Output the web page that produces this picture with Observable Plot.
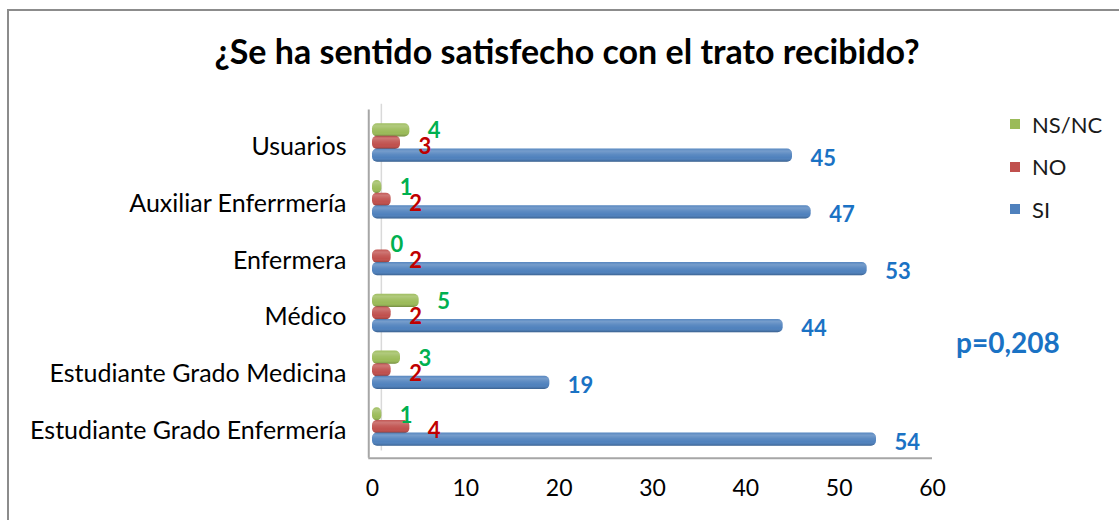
<!DOCTYPE html>
<html><head><meta charset="utf-8">
<script src="https://cdn.jsdelivr.net/npm/d3@7"></script>
<script src="https://cdn.jsdelivr.net/npm/@observablehq/plot@0.6"></script>
<style>
body{margin:0;background:#fff;}
#wrap{position:relative;width:1119px;height:520px;overflow:hidden;font-family:Lato,sans-serif;background:#fff;}
#border{position:absolute;left:7px;top:9px;width:1300px;height:700px;border:2px solid #8c8c8c;box-sizing:border-box;}
#chart{position:absolute;left:0;top:0;}
#title{position:absolute;left:0;width:1134px;top:31px;text-align:center;font-weight:bold;font-size:34px;line-height:40px;color:#000;}
#legend{position:absolute;left:1010px;top:103px;font-size:22px;color:#1a1a1a;}
#legend .item{display:flex;align-items:center;height:42.5px;}
#legend .sw{width:10px;height:10px;margin-right:12px;}
#pval{position:absolute;left:956px;top:326px;font-size:28px;line-height:32px;font-weight:bold;color:#1a72c4;}
</style>
</head><body>
<div id="wrap">
  <div id="border"></div>
  <div id="chart"></div>
  <div id="title"></div>
  <div id="legend"></div>
  <div id="pval"></div>
</div>
<script>
const titleText = "¿Se ha sentido satisfecho con el trato recibido?";
const categories = ["Usuarios", "Auxiliar Enferrmería", "Enfermera", "Médico", "Estudiante Grado Medicina", "Estudiante Grado Enfermería"];
const series = ["NS/NC", "NO", "SI"];
const valuesNSNC = [4, 1, 0, 5, 3, 1];
const valuesNO = [3, 2, 2, 2, 2, 4];
const valuesSI = [45, 47, 53, 44, 19, 54];
const seriesColors = ["#9BBB59", "#C0504D", "#4F81BD"];
const labelColors = ["#00B050", "#C00000", "#1a72c4"];
const xTicks = [0, 10, 20, 30, 40, 50, 60];
const pText = "p=0,208";

const seriesValues = [valuesNSNC, valuesNO, valuesSI];
const data = [];
categories.forEach((c, i) => {
  series.forEach((s, k) => data.push({category: c, row: i, series: s, k, value: seriesValues[k][i]}));
});
const offset = [-0.222, 0, 0.222];
const half = 0.116;
const labelDy = [1, 4, 3];
const yOf = d => d.row + offset[d.k];

const defs = () => {
  const d = d3.create("svg:defs");
  const g = d.append("linearGradient").attr("id", "shade").attr("x1", 0).attr("y1", 0).attr("x2", 0).attr("y2", 1);
  [[0, "#fff", 0.05], [0.2, "#fff", 0.22], [0.45, "#fff", 0.08], [0.7, "#fff", 0], [0.9, "#000", 0.1], [1, "#000", 0.25]]
    .forEach(([o, c, a]) => g.append("stop").attr("offset", o).attr("stop-color", c).attr("stop-opacity", a));
  return d.node();
};

const chart = Plot.plot({
  width: 1119, height: 520,
  marginLeft: 372, marginRight: 187, marginTop: 114, marginBottom: 65,
  x: {domain: [0, 60]},
  y: {domain: [-0.5, 5.5], reverse: true},
  color: {domain: series, range: seriesColors},
  style: {fontFamily: "Lato, sans-serif", background: "transparent", overflow: "visible"},
  marks: [
    defs,
    Plot.ruleX([0.95], {y1: -0.68, y2: 5.42, stroke: "#d9d9d9", strokeWidth: 1.5}),
    Plot.rect(data, {x1: 0, x2: "value", y1: d => yOf(d) - half, y2: d => yOf(d) + half, fill: "series", rx: 5}),
    Plot.rect(data, {x1: 0, x2: "value", y1: d => yOf(d) - half, y2: d => yOf(d) + half, fill: "url(#shade)", rx: 5}),
    Plot.ruleX([-0.4], {y1: -0.58, y2: 5.55, stroke: "#a6a6a6", strokeWidth: 2}),
    Plot.ruleY([5.55], {x1: -0.4, x2: 60, stroke: "#a6a6a6", strokeWidth: 2}),
    ...series.map((s, k) => Plot.text(data.filter(d => d.k === k), {
      x: "value", y: yOf, text: d => String(d.value), dx: 18, dy: labelDy[k],
      textAnchor: "start", fill: labelColors[k], fontSize: 22, fontWeight: "bold"
    })),
    Plot.axisX({ticks: xTicks, tickSize: 0, tickPadding: 24, fontSize: 23, color: "#000", label: null}),
    Plot.axisY({ticks: categories.map((_, i) => i), tickFormat: i => categories[i], tickSize: 0, tickPadding: 26, fontSize: 25, color: "#000", dy: 4, label: null})
  ]
});
document.getElementById("chart").appendChild(chart);
document.getElementById("title").textContent = titleText;
document.getElementById("pval").textContent = pText;
const leg = document.getElementById("legend");
series.forEach((s, k) => {
  const it = document.createElement("div"); it.className = "item";
  const sw = document.createElement("span"); sw.className = "sw"; sw.style.background = seriesColors[k];
  const tx = document.createElement("span"); tx.textContent = s;
  it.appendChild(sw); it.appendChild(tx); leg.appendChild(it);
});
</script>
</body></html>
